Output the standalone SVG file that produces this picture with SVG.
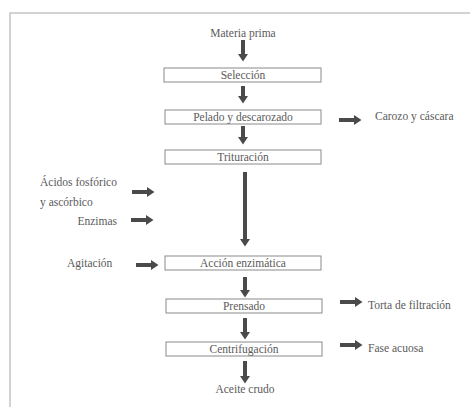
<svg xmlns="http://www.w3.org/2000/svg" width="472" height="407" viewBox="0 0 472 407">
<style>
text{font-family:"Liberation Serif","DejaVu Serif",serif;font-size:11.5px;fill:#5a5a5a}
.box{fill:#fff;stroke:#8a8a8a;stroke-width:1}
.c{text-anchor:middle}
.ar{stroke:#4a4a4a;stroke-width:4;fill:none;marker-end:url(#ah)}
.frame{stroke:#c4c4c4;stroke-width:1.5;fill:none}
</style>
<defs>
<marker id="ah" markerUnits="userSpaceOnUse" markerWidth="10" markerHeight="11" refX="1" refY="5.5" orient="auto">
<path d="M1,0.5 L8.5,5.5 L1,10.5 Z" fill="#4a4a4a"/>
</marker>
</defs>
<rect width="472" height="407" fill="#fff"/>
<path class="frame" d="M10,407 V13 H470"/>
<g id="connectors">
<line class="ar" x1="243" y1="40" x2="243" y2="54"/>
<line class="ar" x1="243" y1="86" x2="243" y2="96"/>
<line class="ar" x1="243" y1="126" x2="243" y2="137"/>
<line class="ar" x1="245" y1="172" x2="245" y2="239"/>
<line class="ar" x1="245" y1="277" x2="245" y2="290"/>
<line class="ar" x1="245" y1="318" x2="245" y2="332"/>
<line class="ar" x1="245" y1="361" x2="245" y2="376"/>
<line class="ar" x1="339" y1="120" x2="354" y2="120"/>
<line class="ar" x1="132" y1="192" x2="147" y2="192"/>
<line class="ar" x1="131" y1="220" x2="146" y2="220"/>
<line class="ar" x1="136" y1="265" x2="151" y2="265"/>
<line class="ar" x1="340" y1="302" x2="355" y2="302"/>
<line class="ar" x1="340" y1="345" x2="355" y2="345"/>
</g>
<g id="materia"><text class="c" x="243" y="37">Materia prima</text></g>
<g id="seleccion"><rect class="box" x="164" y="68" width="157" height="14"/><text class="c" x="243" y="79">Selección</text></g>
<g id="pelado"><rect class="box" x="165" y="110" width="156" height="14"/><text class="c" x="243" y="121">Pelado y descarozado</text></g>
<g id="trituracion"><rect class="box" x="165" y="150" width="156" height="14"/><text class="c" x="243" y="161">Trituración</text></g>
<g id="accion"><rect class="box" x="165" y="256" width="156" height="14"/><text class="c" x="243" y="267">Acción enzimática</text></g>
<g id="prensado"><rect class="box" x="166" y="299" width="156" height="14"/><text class="c" x="244" y="310">Prensado</text></g>
<g id="centrifugacion"><rect class="box" x="166" y="342" width="156" height="14"/><text class="c" x="244" y="353">Centrifugación</text></g>
<g id="aceite"><text class="c" x="245" y="393">Aceite crudo</text></g>
<g id="carozo"><text x="375" y="120">Carozo y cáscara</text></g>
<g id="acidos"><text x="40" y="186">Ácidos fosfórico</text><text x="40" y="206">y ascórbico</text></g>
<g id="enzimas"><text x="117" y="225" text-anchor="end">Enzimas</text></g>
<g id="agitacion"><text x="67" y="267">Agitación</text></g>
<g id="torta"><text x="368" y="309">Torta de filtración</text></g>
<g id="fase"><text x="368" y="352">Fase acuosa</text></g>
</svg>
